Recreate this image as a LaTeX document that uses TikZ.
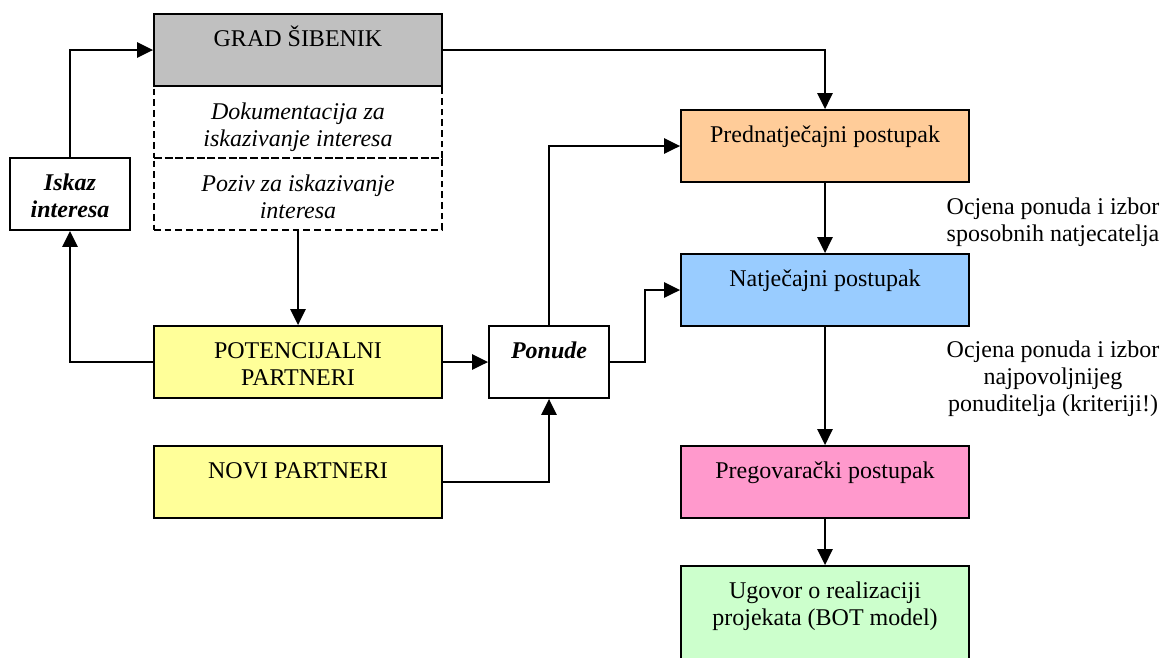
\documentclass[tikz,border=0pt]{standalone}
\usepackage{fontspec}
\setmainfont{Liberation Serif}
\usetikzlibrary{arrows.meta}
\newcommand\myFs{\fontsize{18pt}{20.25pt}\selectfont}
\newcommand\myTop{\rule{0pt}{17pt}}
\definecolor{cgray}{HTML}{C0C0C0}
\definecolor{corange}{HTML}{FFCC99}
\definecolor{cblue}{HTML}{99CCFF}
\definecolor{cyellow}{HTML}{FFFF99}
\definecolor{cpink}{HTML}{FF99CC}
\definecolor{cgreen}{HTML}{CCFFCC}
\tikzset{
  box/.style={draw, line width=1.4pt, rectangle, inner sep=0pt, minimum width=216pt, minimum height=54pt},
  sbox/.style={box, minimum width=90pt},
  dbox/.style={box, line width=1.1pt, dash pattern=on 5pt off 3pt},
  txt/.style={anchor=north, inner sep=0pt, align=center, yshift=-8.1pt, font=\myFs},
  lbl/.style={anchor=north, inner sep=0pt, align=center, font=\myFs},
  conn/.style={line width=1.4pt, -{Triangle[length=12pt,width=11.5pt]}},
  plain/.style={line width=1.4pt}
}
\begin{document}
\begin{tikzpicture}[x=0.75pt,y=-0.75pt]
\useasboundingbox (0,0) rectangle (1162,657);
% dashed boxes
\node[dbox] (dok) at (298,122) {};
\node[dbox] (poz) at (298,194) {};
% boxes
\node[box, fill=cgray] (grad) at (298,50) {};
\node[sbox] (isk) at (70,194) {};
\node[box, fill=cyellow] (pot) at (298,362) {};
\node[box, fill=cyellow] (novi) at (298,482) {};
\node[sbox] (pon) at (549,362) {};
\node[box, fill=corange] (pred) at (825,146) {};
\node[box, fill=cblue] (nat) at (825,290) {};
\node[box, fill=cpink] (preg) at (825,482) {};
\node[box, fill=cgreen, minimum height=72pt] (ugo) at (825,614) {};
% texts
\node[txt] (gradT) at (grad.north) {\myTop GRAD ŠIBENIK};
\node[txt] (dokT) at (dok.north) {\itshape\myTop Dokumentacija za\\\itshape iskazivanje interesa};
\node[txt] (pozT) at (poz.north) {\itshape\myTop Poziv za iskazivanje\\\itshape interesa};
\node[txt] (iskT) at (isk.north) {\bfseries\itshape\myTop Iskaz\\\bfseries\itshape interesa};
\node[txt] (potT) at (pot.north) {\myTop POTENCIJALNI\\PARTNERI};
\node[txt] (noviT) at (novi.north) {\myTop NOVI PARTNERI};
\node[txt] (ponT) at (pon.north) {\bfseries\itshape\myTop Ponude};
\node[txt] (predT) at (pred.north) {\myTop Prednatječajni postupak};
\node[txt] (natT) at (nat.north) {\myTop Natječajni postupak};
\node[txt] (pregT) at (preg.north) {\myTop Pregovarački postupak};
\node[txt] (ugoT) at (ugo.north) {\myTop Ugovor o realizaciji\\projekata (BOT model)};
% side labels
\node[lbl] (ocj1) at (1053,192) {\myTop Ocjena ponuda i izbor\\sposobnih natjecatelja};
\node[lbl] (ocj2) at (1053,335) {\myTop Ocjena ponuda i izbor\\najpovoljnijeg\\ponuditelja (kriteriji!)};
% connectors
\coordinate (pbend) at (645,362);
\draw[conn] (isk.north) |- (grad.west);
\draw[conn] (grad.east) -| (pred.north);
\draw[conn] (poz.south) -- (pot.north);
\draw[conn] (pot.west) -| (isk.south);
\draw[conn] (pot.east) -- (pon.west);
\draw[conn] (novi.east) -| (pon.south);
\draw[conn] (pon.north) |- (pred.west);
\draw[conn] (pon.east) -- (pbend) |- (nat.west);
\draw[conn] (pred.south) -- (nat.north);
\draw[conn] (nat.south) -- (preg.north);
\draw[conn] (preg.south) -- (ugo.north);
\end{tikzpicture}
\end{document}
